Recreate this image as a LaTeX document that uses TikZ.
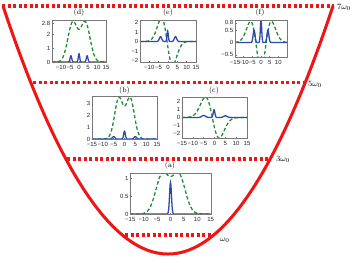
\documentclass[tikz,border=0pt]{standalone}
\usepackage{fontspec}
\setsansfont{Liberation Sans}
\definecolor{lvlred}{RGB}{240,20,20}
\definecolor{gcol}{RGB}{35,140,60}
\definecolor{bcol}{RGB}{45,75,175}
\definecolor{axcol}{RGB}{120,120,120}
\begin{document}
\begin{tikzpicture}[x=1pt,y=-1pt,
  lvl/.style={lvlred, line width=3.3pt, dash pattern=on 3.3pt off 2.2pt},
  para/.style={lvlred, line width=3pt},
  gc/.style={gcol, line width=1.3pt, dash pattern=on 3.5pt off 2.3pt},
  bc/.style={bcol, line width=1.3pt},
  ax/.style={axcol, line width=0.45pt},
  xl/.style={font=\sffamily\fontsize{6}{6.5}\selectfont, text=black!85, anchor=north, yshift=-2.8pt, inner sep=0.2pt},
  yl/.style={font=\sffamily\fontsize{6}{6.5}\selectfont, text=black!85, anchor=east, xshift=-1.4pt, inner sep=0.2pt},
  ttl/.style={font=\fontsize{7.5}{8}\selectfont, inner sep=0pt},
  lvllab/.style={font=\fontsize{8.5}{9}\selectfont, anchor=west, inner sep=0pt}
]
\useasboundingbox (0,0) rectangle (353,260);
\fill[white] (0,0) rectangle (353,260);

% energy levels
\coordinate (l7a) at (2,6);   \coordinate (l7b) at (334,6);
\coordinate (l5a) at (33,82.5); \coordinate (l5b) at (303,82.5);
\coordinate (l3a) at (67,159); \coordinate (l3b) at (270,159);
\coordinate (l1a) at (125,235); \coordinate (l1b) at (211,235);
\draw[lvl] (l7a) -- (l7b);
\draw[lvl] (l5a) -- (l5b);
\draw[lvl] (l3a) -- (l3b);
\draw[lvl] (l1a) -- (l1b);
\node[lvllab] (lab7) at (337,7) {$7\omega_0$};
\node[lvllab] (lab5) at (308,84) {$5\omega_0$};
\node[lvllab] (lab3) at (276,159.5) {$3\omega_0$};
\node[lvllab] (lab1) at (220,240) {$\omega_0$};

% parabola
\coordinate (pl) at (3,6); \coordinate (pr) at (333,6);
\draw[para] (pl) .. controls (113,336.7) and (223,336.7) .. (pr);

% ---------- (a)
\node[ttl] (ta) at (170,166) {(a)};
\begin{scope}[shift={(170.5,214)}, x=2.683pt, y=36pt]
  \begin{scope}
    \clip (-15,0) rectangle (15,1.12);
    \draw[gc] plot[domain=-15:15,samples=121] (\x,{1.1*(exp(-(\x-3)^2/12)+exp(-(\x+3)^2/12))});
    \draw[bc] plot[domain=-15:15,samples=301] (\x,{0.88*exp(-\x*\x/0.25)});
  \end{scope}
  \draw[ax] (-15,0) rectangle (15,1.12);
  \foreach \t/\l [count=\i] in {-15/−15,-10/−10,-5/−5,0/0,5/5,10/10,15/15}
    {\draw[ax] (\t,0) -- ++(0,1.5pt); \node[xl] (ax\i) at (\t,0) {\l};}
  \foreach \t/\l [count=\i] in {0/0,0.5/0.5,1/1}
    {\draw[ax] (-15,\t) -- ++(1.5pt,0); \node[yl] (ay\i) at (-15,\t) {\l};}
\end{scope}

% ---------- (b)
\node[ttl] (tb) at (124.5,91) {(b)};
\begin{scope}[shift={(124.5,139)}, x=2.167pt, y=12pt]
  \begin{scope}
    \clip (-15,0) rectangle (15,3.55);
    \draw[gc] plot[domain=-15:15,samples=121] (\x,{3.38*(exp(-(\x-2.6)^2/7.5)+exp(-(\x+2.6)^2/7.5))});
    \draw[bc] plot[domain=-15:15,samples=301] (\x,{0.65*exp(-\x*\x/0.3)+0.2*exp(-(\x-5)^2/0.6)+0.2*exp(-(\x+5)^2/0.6)});
  \end{scope}
  \draw[ax] (-15,0) rectangle (15,3.55);
  \foreach \t/\l [count=\i] in {-15/−15,-10/−10,-5/−5,0/0,5/5,10/10,15/15}
    {\draw[ax] (\t,0) -- ++(0,1.5pt); \node[xl] (bx\i) at (\t,0) {\l};}
  \foreach \t/\l [count=\i] in {0/0,1/1,2/2,3/3}
    {\draw[ax] (-15,\t) -- ++(1.5pt,0); \node[yl] (by\i) at (-15,\t) {\l};}
\end{scope}

% ---------- (c)
\node[ttl] (tc) at (214,91) {(c)};
\begin{scope}[shift={(214.5,117.5)}, x=2.167pt, y=8.2pt]
  \begin{scope}
    \clip (-15,-2.5) rectangle (15,2.5);
    \draw[gc] plot[domain=-15:15,samples=121] (\x,{-1.3*(\x+1)*exp(-(\x+1)^2/20)});
    \draw[bc] plot[domain=-15:15,samples=301] (\x,{0.95*exp(-(\x+0.2)^2/0.3)+0.25*exp(-(\x+5)^2/1.5)+0.2*exp(-(\x-5)^2/1.5)});
  \end{scope}
  \draw[ax] (-15,-2.5) rectangle (15,2.5);
  \foreach \t/\l [count=\i] in {-15/−15,-10/−10,-5/−5,0/0,5/5,10/10,15/15}
    {\draw[ax] (\t,-2.5) -- ++(0,1.5pt); \node[xl] (cx\i) at (\t,-2.5) {\l};}
  \foreach \t/\l [count=\i] in {-2/−2,-1/−1,0/0,1/1,2/2}
    {\draw[ax] (-15,\t) -- ++(1.5pt,0); \node[yl] (cy\i) at (-15,\t) {\l};}
\end{scope}

% ---------- (d)
\node[ttl] (td) at (79,13) {(d)};
\begin{scope}[shift={(79,62)}, x=1.8pt, y=13.8pt]
  \begin{scope}
    \clip (-15,0) rectangle (15,3);
    \draw[gc] plot[domain=-15:15,samples=121] (\x,{2.85*(exp(-(\x-3.5)^2/14)+exp(-(\x+3.5)^2/14))});
    \draw[bc] plot[domain=-15:15,samples=301] (\x,{0.6*exp(-\x*\x/0.3)+0.45*exp(-(\x-4.5)^2/0.4)+0.45*exp(-(\x+4.5)^2/0.4)});
  \end{scope}
  \draw[ax] (-15,0) rectangle (15,3);
  \foreach \t/\l [count=\i] in {-10/−10,-5/−5,0/0,5/5,10/10,15/15}
    {\draw[ax] (\t,0) -- ++(0,1.5pt); \node[xl] (dx\i) at (\t,0) {\l};}
  \foreach \t/\l [count=\i] in {0/0,1/1,2/2,2.8/2.8}
    {\draw[ax] (-15,\t) -- ++(1.5pt,0); \node[yl] (dy\i) at (-15,\t) {\l};}
\end{scope}

% ---------- (e)
\node[ttl] (te) at (168,13) {(e)};
\begin{scope}[shift={(168,41.5)}, x=1.87pt, y=9.55pt]
  \begin{scope}
    \clip (-15,-2.2) rectangle (15,2.2);
    \draw[gc] plot[domain=-15:15,samples=121] (\x,{-1.35*(\x+0.5)*exp(-(\x+0.5)^2/18)});
    \draw[bc] plot[domain=-15:15,samples=301] (\x,{1.1*exp(-(\x+0.2)^2/0.25)+0.5*exp(-(\x+4)^2/0.8)+0.5*exp(-(\x-4)^2/0.8)});
  \end{scope}
  \draw[ax] (-15,-2.2) rectangle (15,2.2);
  \foreach \t/\l [count=\i] in {-10/−10,-5/−5,0/0,5/5,10/10,15/15}
    {\draw[ax] (\t,-2.2) -- ++(0,1.5pt); \node[xl] (ex\i) at (\t,-2.2) {\l};}
  \foreach \t/\l [count=\i] in {-2/−2,-1/−1,0/0,1/1,2/2}
    {\draw[ax] (-15,\t) -- ++(1.5pt,0); \node[yl] (ey\i) at (-15,\t) {\l};}
\end{scope}

% ---------- (f)
\node[ttl] (tf) at (260,13) {(f)};
\begin{scope}[shift={(261,42.5)}, x=1.733pt, y=24.7pt]
  \begin{scope}
    \clip (-15,-0.587) rectangle (15,0.91);
    \draw[gc] plot[domain=-15:15,samples=121] (\x,{0.12*(\x*\x-9)*exp(-\x*\x/27)});
    \draw[bc] plot[domain=-15:15,samples=301] (\x,{0.92*exp(-\x*\x/0.3)+0.5*exp(-(\x-4)^2/0.6)+0.5*exp(-(\x+4)^2/0.6)});
  \end{scope}
  \draw[ax] (-15,-0.587) rectangle (15,0.91);
  \foreach \t/\l [count=\i] in {-15/−15,-10/−10,-5/−5,0/0,5/5,10/10}
    {\draw[ax] (\t,-0.587) -- ++(0,1.5pt); \node[xl] (fx\i) at (\t,-0.587) {\l};}
  \foreach \t/\l [count=\i] in {-0.5/−0.5,0/0,0.5/0.5,0.8/0.8}
    {\draw[ax] (-15,\t) -- ++(1.5pt,0); \node[yl] (fy\i) at (-15,\t) {\l};}
\end{scope}
\end{tikzpicture}
\end{document}
